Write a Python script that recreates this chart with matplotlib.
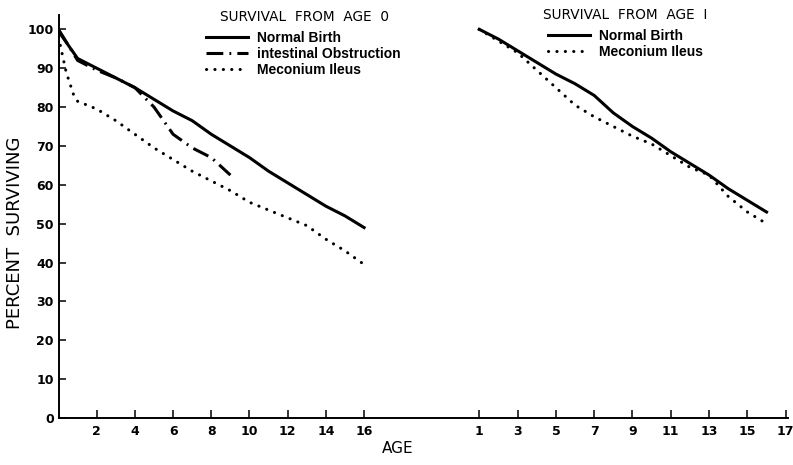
import matplotlib
matplotlib.use("Agg")
import matplotlib.pyplot as plt

# Survival from age 0
ages0 = [0, 1, 2, 3, 4, 5, 6, 7, 8, 9, 10, 11, 12, 13, 14, 15, 16]
normal0 = [99.5, 92.5, 90, 87.5, 85, 82, 79, 76.5, 73, 70, 67, 63.5, 60.5, 57.5, 54.5, 52, 49]
ages_io = [0, 1, 2, 3, 4, 5, 6, 7, 8, 9]
intestinal0 = [100, 92, 89.5, 87.5, 85, 80, 73, 69.5, 67, 62.5]
ages_mi = [0, 0.4, 0.8, 1, 2, 3, 4, 5, 6, 7, 8, 9, 10, 11, 12, 13, 14, 15, 16]
meconium0 = [98, 89, 83, 81.5, 79.5, 76.5, 73, 69.5, 66.5, 63.5, 61, 58.5, 55.5, 53.5, 51.5, 49.5, 46, 43, 39.5]

# Survival from age 1
ages1 = [1, 2, 3, 4, 5, 6, 7, 8, 9, 10, 11, 12, 13, 14, 15, 16]
normal1 = [100, 97.5, 94.5, 91.5, 88.5, 86, 83, 78.5, 75, 72, 68.5, 65.5, 62.5, 59, 56, 53]
meconium1 = [100, 97, 94, 89.5, 85, 80.5, 77.5, 75, 72.5, 70.5, 67.5, 64.5, 62.5, 57, 53, 50]

xticks0 = [2, 4, 6, 8, 10, 12, 14, 16]
xticks1 = [1, 3, 5, 7, 9, 11, 13, 15, 17]
yticks = [0, 10, 20, 30, 40, 50, 60, 70, 80, 90, 100]

fig = plt.figure(figsize=(7.93, 4.65), dpi=100)
ax0 = fig.add_axes([0.0738, 0.1011, 0.4306, 0.8667])
ax1 = fig.add_axes([0.5044, 0.1011, 0.4893, 0.8667])

lw = 2.2
dotted = (0, (0.05, 2.7))
dashdot = (0, (5.5, 2, 0.6, 2))

ax0.plot(ages0, normal0, color="black", lw=lw, label="Normal Birth")
ax0.plot(ages_io, intestinal0, color="black", lw=lw, ls=dashdot, label="intestinal Obstruction")
ax0.plot(ages_mi, meconium0, color="black", lw=lw, ls=dotted, dash_capstyle="round", label="Meconium Ileus")

ax1.plot(ages1, normal1, color="black", lw=lw, label="Normal Birth")
ax1.plot(ages1, meconium1, color="black", lw=lw, ls=dotted, dash_capstyle="round", label="Meconium Ileus")

ax0.set_xlim(0, 17.88)
ax1.set_xlim(-3.14, 17.12)
for ax in (ax0, ax1):
    ax.set_ylim(0, 103.7)
    ax.spines["top"].set_visible(False)
    ax.spines["right"].set_visible(False)
    ax.spines["bottom"].set_linewidth(1.4)
    ax.tick_params(axis="x", direction="in", length=5.5, width=1.1, pad=5)
    ax.patch.set_alpha(0)
ax0.spines["left"].set_linewidth(1.4)
ax1.spines["left"].set_visible(False)

ax0.set_xticks(xticks0)
ax1.set_xticks(xticks1)
ax0.set_yticks(yticks)
ax1.set_yticks([])
ax0.tick_params(axis="y", direction="in", length=5, width=1.1, pad=3.5)
for lab in ax0.get_xticklabels() + ax1.get_xticklabels() + ax0.get_yticklabels():
    lab.set_fontweight("bold")
    lab.set_fontsize(9)

fig.text(0.019, 0.50, "PERCENT  SURVIVING", rotation=90, ha="center", va="center", fontsize=13)
fig.text(0.502, 0.036, "AGE", ha="center", va="center", fontsize=11)

fig.text(0.3835, 1 - 16.7 / 465, "SURVIVAL  FROM  AGE  0", ha="center", va="center", fontsize=9.8)
fig.text(0.7885, 1 - 15 / 465, "SURVIVAL  FROM  AGE  I", ha="center", va="center", fontsize=9.8)

leg_kw = dict(frameon=False, prop={"family": "Liberation Sans", "weight": "bold", "size": 10},
              handlelength=3.0, handletextpad=0.7, labelspacing=0.15, borderpad=0, borderaxespad=0,
              loc="upper left")
ax0.legend(bbox_to_anchor=(206 / 793, 1 - 31 / 465), bbox_transform=fig.transFigure, **leg_kw)
ax1.legend(bbox_to_anchor=(548 / 793, 1 - 29 / 465), bbox_transform=fig.transFigure, **leg_kw)

fig.savefig("out.png", dpi=100)
